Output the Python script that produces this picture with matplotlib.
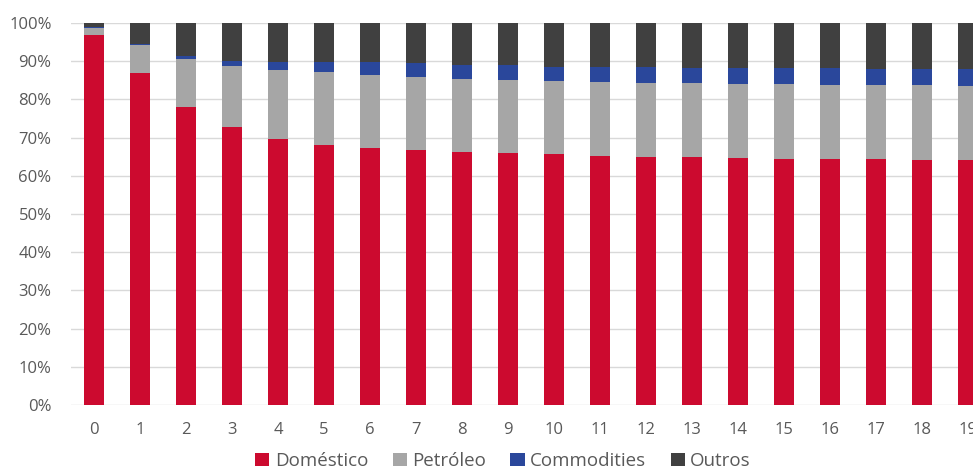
import numpy as np
import matplotlib.pyplot as plt

plt.rcParams['font.family'] = ['Open Sans', 'DejaVu Sans']

periods = list(range(20))
domestico = [96.9, 86.8, 78.0, 72.8, 69.6, 68.1, 67.3, 66.8, 66.3, 65.9,
             65.6, 65.3, 65.0, 64.8, 64.6, 64.5, 64.4, 64.3, 64.2, 64.1]
petroleo = [1.8, 7.4, 12.6, 15.9, 18.1, 19.0, 19.1, 19.1, 19.0, 19.2,
            19.2, 19.3, 19.4, 19.4, 19.4, 19.5, 19.5, 19.5, 19.6, 19.5]
commodities = [0.3, 0.3, 0.8, 1.3, 2.2, 2.8, 3.4, 3.6, 3.7, 3.8,
               3.8, 3.9, 4.0, 4.1, 4.3, 4.2, 4.2, 4.2, 4.1, 4.3]
outros = [100 - d - p - c for d, p, c in zip(domestico, petroleo, commodities)]

series = [("Doméstico", domestico, "#CC0A2F"),
          ("Petróleo", petroleo, "#A6A6A6"),
          ("Commodities", commodities, "#2A479B"),
          ("Outros", outros, "#404040")]

fig = plt.figure(figsize=(9.73, 4.69), dpi=100)
ax = fig.add_axes([71 / 973, 1 - 405 / 469, 920 / 973, 382 / 469])

bottom = np.zeros(len(periods))
for name, vals, col in series:
    ax.bar(periods, vals, bottom=bottom, width=0.43, color=col, label=name, zorder=3)
    bottom += np.array(vals)

ax.set_xlim(-0.5, 19.5)
ax.set_ylim(0, 100)
ax.set_yticks(range(0, 101, 10))
ax.set_yticklabels([f"{v}%" for v in range(0, 101, 10)])
ax.set_xticks(periods)
ax.grid(axis='y', color='#D9D9D9', linewidth=1, zorder=0)
for s in ax.spines.values():
    s.set_visible(False)
ax.tick_params(length=0, labelsize=12, colors='#595959')
ax.tick_params(axis='y', pad=14)
ax.tick_params(axis='x', pad=12)

fig.legend(loc='center', bbox_to_anchor=(503 / 973, 1 - 461 / 469), ncol=4,
           frameon=False, fontsize=13.5, handlelength=0.75, handleheight=0.75,
           handletextpad=0.3, columnspacing=1.3, labelcolor='#595959')

fig.savefig('out.png', dpi=100)
